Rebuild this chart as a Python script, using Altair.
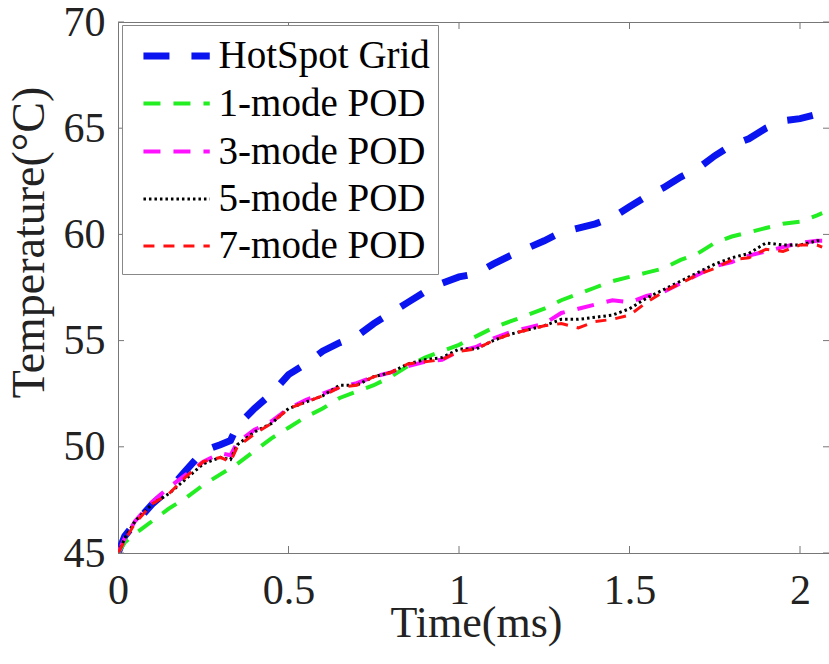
import altair as alt
import pandas as pd

# ---------------- data ----------------
time_ms = [0, 0.02, 0.05, 0.10, 0.15, 0.20, 0.25, 0.30, 0.33, 0.35, 0.40, 0.45,
           0.50, 0.55, 0.60, 0.65, 0.70, 0.75, 0.80, 0.85, 0.90, 0.95, 1.00,
           1.05, 1.10, 1.15, 1.20, 1.25, 1.30, 1.35, 1.40, 1.45, 1.50, 1.55,
           1.60, 1.65, 1.70, 1.75, 1.80, 1.85, 1.90, 1.95, 2.00, 2.05, 2.065]

hotspot = [45.0, 45.8, 46.4, 47.3, 48.0, 48.9, 49.8, 50.1, 50.3, 51.0, 51.8, 52.5,
           53.4, 53.9, 54.5, 54.9, 55.2, 55.8, 56.3, 56.8, 57.3, 57.7, 58.0,
           58.15, 58.6, 59.0, 59.35, 59.7, 60.1, 60.3, 60.5, 60.8, 61.3, 61.8,
           62.2, 62.7, 63.1, 63.7, 64.2, 64.5, 65.0, 65.35, 65.45, 65.65, 65.7]

pod1 = [45.0, 45.5, 45.9, 46.5, 47.1, 47.6, 48.2, 48.7, 49.0, 49.2, 49.8, 50.4,
        50.9, 51.4, 51.8, 52.3, 52.6, 52.9, 53.3, 53.8, 54.2, 54.5, 54.8,
        55.2, 55.6, 55.9, 56.2, 56.5, 56.9, 57.2, 57.5, 57.8, 58.0, 58.2,
        58.4, 58.8, 59.1, 59.6, 59.9, 60.1, 60.3, 60.5, 60.6, 60.9, 61.0]

pod3 = [45.0, 45.7, 46.5, 47.4, 48.1, 48.7, 49.3, 49.7, 49.6, 50.2, 50.8, 51.2,
        51.8, 52.2, 52.5, 52.8, 53.0, 53.3, 53.5, 53.8, 54.0, 54.1, 54.5,
        54.7, 55.1, 55.4, 55.6, 55.8, 56.3, 56.5, 56.7, 56.9, 56.8, 57.1,
        57.3, 57.7, 58.1, 58.5, 58.7, 59.0, 59.2, 59.4, 59.6, 59.7, 59.7]

pod5 = [45.0, 45.7, 46.5, 47.3, 47.8, 48.5, 49.2, 49.5, 49.4, 50.1, 50.7, 51.1,
        51.8, 52.1, 52.4, 52.9, 52.9, 53.3, 53.5, 53.9, 54.1, 54.2, 54.6,
        54.6, 55.0, 55.3, 55.5, 55.7, 56.0, 56.0, 56.1, 56.2, 56.5, 57.0,
        57.4, 57.8, 58.2, 58.6, 58.9, 59.1, 59.6, 59.5, 59.5, 59.7, 59.7]

pod7 = [45.0, 45.6, 46.4, 47.3, 47.8, 48.6, 49.3, 49.5, 49.3, 50.0, 50.6, 51.1,
        51.8, 52.1, 52.4, 52.8, 52.9, 53.3, 53.5, 53.9, 54.0, 54.1, 54.5,
        54.6, 55.0, 55.3, 55.5, 55.7, 55.8, 55.6, 55.9, 56.0, 56.2, 56.8,
        57.3, 57.7, 58.1, 58.4, 58.8, 58.9, 59.3, 59.2, 59.5, 59.5, 59.4]

series_names = ["HotSpot Grid", "1-mode POD", "3-mode POD", "5-mode POD", "7-mode POD"]
x_ticks = [0, 0.5, 1, 1.5, 2]
y_ticks = [45, 50, 55, 60, 65, 70]

# ---------------- styles ----------------
colors = ["#0a14f0", "#22ee22", "#ff11ff", "#000000", "#ff1111"]
dashes = [[26, 22], [17, 13], [17, 13], [2.5, 3], [11, 9]]
widths = [7, 4, 4, 3, 3]
FONT = "Liberation Serif"
AXIS_GRAY = "#777777"
TEXT = "#222222"

rows = []
for name, vals in zip(series_names, [hotspot, pod1, pod3, pod5, pod7]):
    for t, v in zip(time_ms, vals):
        rows.append({"t": t, "temp": v, "series": name})
df = pd.DataFrame(rows)

xs = alt.Scale(domain=[0, 2.085], nice=False, zero=False)
ys = alt.Scale(domain=[45, 70], nice=False, zero=False)

x_axis = alt.Axis(
    values=x_ticks, format="~g", tickSize=0, domainColor=AXIS_GRAY, domainWidth=1,
    labelFont=FONT, labelFontSize=42, labelColor=TEXT, labelPadding=17,
    labelFlush=False, labelOverlap=False, grid=False,
    title="Time(ms)", titleFont=FONT, titleFontSize=44, titleFontWeight="normal",
    titleColor=TEXT, titleX=358, titleY=83, titleBaseline="alphabetic",
    titleAlign="center")
y_axis = alt.Axis(
    values=y_ticks, format="d", tickSize=0, domainColor=AXIS_GRAY, domainWidth=1,
    labelFont=FONT, labelFontSize=42, labelColor=TEXT, labelPadding=13,
    labelOverlap=False, grid=False,
    title="Temperature(°C)", titleFont=FONT, titleFontSize=46,
    titleFontWeight="normal", titleColor=TEXT, titleX=-89, titleY=220,
    titleAngle=270, titleBaseline="middle", titleAlign="center")

legend = alt.Legend(
    title=None, orient="none", legendX=4, legendY=3,
    symbolType="M-1.7,0H1.7", symbolSize=1521,
    symbolOffset=23.6, labelOffset=19,
    labelFont=FONT, labelFontSize=39, labelColor="#000000", labelLimit=0,
    padding=8, rowPadding=6, strokeColor="#888888", fillColor="white",
    cornerRadius=0, direction="vertical",
)

lines = alt.Chart(df).mark_line(clip=True).encode(
    x=alt.X("t:Q", scale=xs, axis=x_axis),
    y=alt.Y("temp:Q", scale=ys, axis=y_axis),
    color=alt.Color("series:N", scale=alt.Scale(domain=series_names, range=colors),
                    legend=legend),
    strokeDash=alt.StrokeDash("series:N", scale=alt.Scale(domain=series_names, range=dashes),
                              legend=legend),
    strokeWidth=alt.StrokeWidth("series:N", scale=alt.Scale(type="ordinal", domain=series_names, range=widths),
                                legend=legend),
)

ytick_df = pd.DataFrame({"v": y_ticks})
xtick_df = pd.DataFrame({"v": x_ticks[1:]})

tick_style = dict(color=AXIS_GRAY, strokeWidth=1)
y_left = alt.Chart(ytick_df).mark_rule(**tick_style).encode(
    y=alt.Y("v:Q", scale=ys, axis=y_axis), x=alt.value(0), x2=alt.value(6))
y_right = alt.Chart(ytick_df).mark_rule(**tick_style).encode(
    y=alt.Y("v:Q", scale=ys, axis=y_axis), x=alt.value(705), x2=alt.value(711))
x_bottom = alt.Chart(xtick_df).mark_rule(**tick_style).encode(
    x=alt.X("v:Q", scale=xs, axis=x_axis), y=alt.value(531), y2=alt.value(524))
x_top = alt.Chart(xtick_df).mark_rule(**tick_style).encode(
    x=alt.X("v:Q", scale=xs, axis=x_axis), y=alt.value(0), y2=alt.value(7))

chart = alt.layer(lines, y_left, y_right, x_bottom, x_top).properties(
    width=711, height=531,
    padding={"left": 118, "top": 22, "right": 0, "bottom": 111},
    autosize=alt.AutoSizeParams(type="none"),
    background="white",
).configure_view(stroke=AXIS_GRAY, strokeWidth=1)

chart.save("out.html", embed_options={"renderer": "svg", "actions": False})
